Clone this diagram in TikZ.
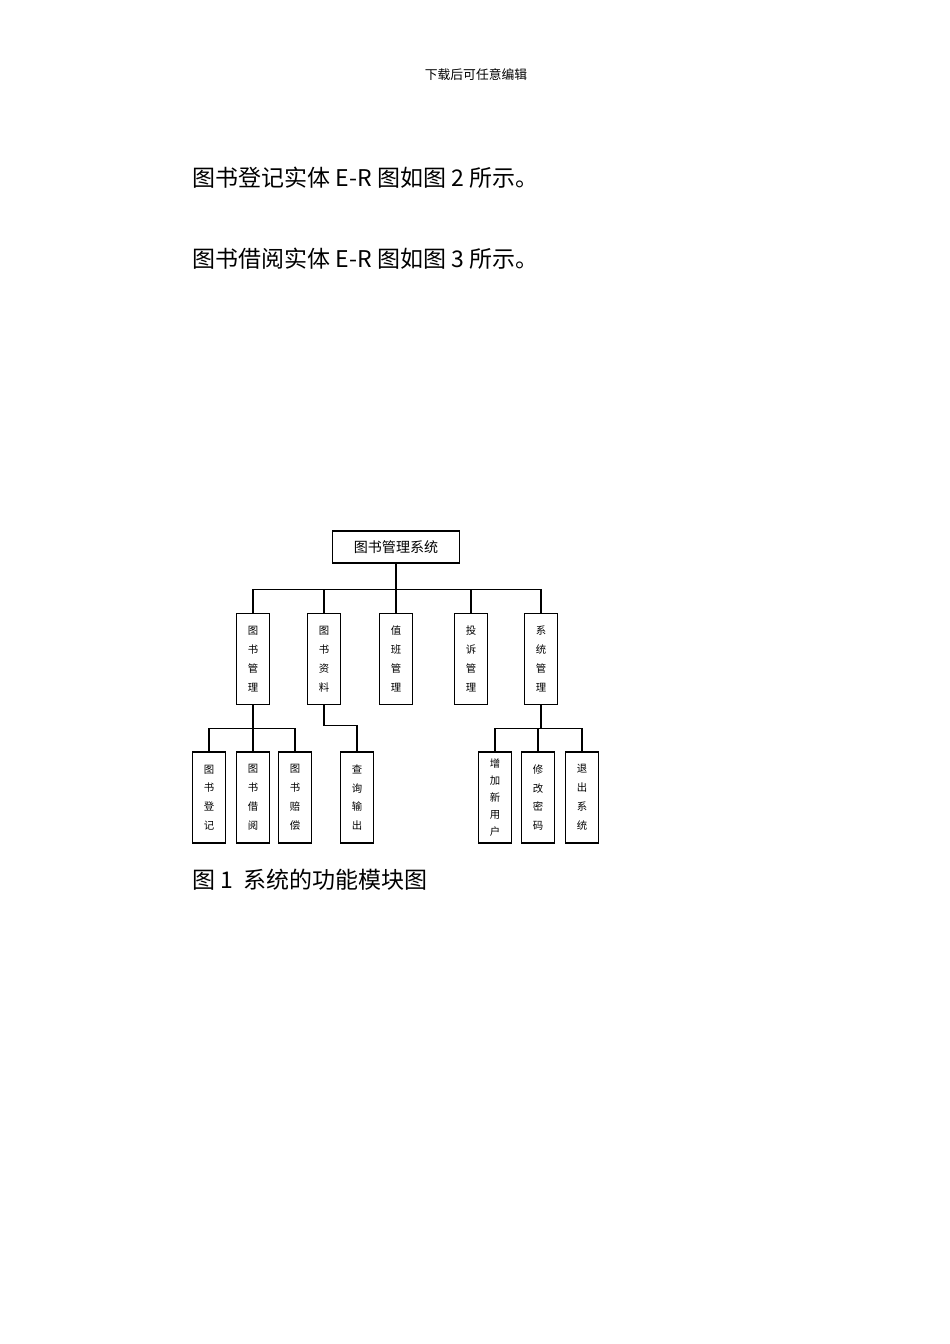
\documentclass[tikz,border=0pt]{standalone}
\usepackage{fontspec}
\setmainfont{Noto Sans CJK SC}
\usetikzlibrary{positioning}

\begin{document}
\begin{tikzpicture}[x=0.626pt,y=-0.626pt,
  box/.style={draw,line width=0.7pt,inner sep=0pt,minimum width=20.7pt,minimum height=57pt,align=center,font=\fontsize{6.5}{11.8}\selectfont},
  link/.style={line width=0.7pt}]
\useasboundingbox (0,0) rectangle (950,1344);

\node (head) at (476,75) {\fontsize{8}{10}\selectfont 下载后可任意编辑};
\node[anchor=west] (line1) at (187,178) {\fontsize{14.4}{17}\selectfont 图书登记实体 E-R 图如图 2 所示。};
\node[anchor=west] (line2) at (187,259) {\fontsize{14.4}{17}\selectfont 图书借阅实体 E-R 图如图 3 所示。};

\node[draw,line width=0.7pt,minimum width=80pt,minimum height=20pt,font=\fontsize{8.8}{10}\selectfont] (sys) at (396,547) {图书管理系统};

\foreach \i/\x/\txt in {1/253/图\\书\\管\\理, 2/324/图\\书\\资\\料, 3/396/值\\班\\管\\理, 4/471/投\\诉\\管\\理, 5/541/系\\统\\管\\理} {
    \node[box] (m\i) at (\x,659) {\txt};
}

\foreach \i in {1,...,5} {
    \draw[link] (sys.south) -- ++(0,26) -| (m\i.north);
}

\foreach \name/\x/\txt in {a1/209/图\\书\\登\\记, a2/253/图\\书\\借\\阅, a3/295/图\\书\\赔\\偿, b1/357/查\\询\\输\\出, c2/538/修\\改\\密\\码, c3/582/退\\出\\系\\统} {
    \node[box] (\name) at (\x,797.5) {\txt};
}
\node[box,font=\fontsize{6.5}{10.6}\selectfont] (c1) at (495,797.5) {增\\加\\新\\用\\户};

\foreach \j in {a1,a2,a3} {
    \draw[link] (m1.south) -- ++(0,23) -| (\j.north);
}
\draw[link] (m2.south) -- ++(0,20) -| (b1.north);
\foreach \j in {c1,c2,c3} {
    \draw[link] (m5.south) -- ++(0,23) -| (\j.north);
}

\node[anchor=west] (cap) at (187,880) {\fontsize{14.4}{17}\selectfont 图 1\ \ 系统的功能模块图};
\end{tikzpicture}
\end{document}
